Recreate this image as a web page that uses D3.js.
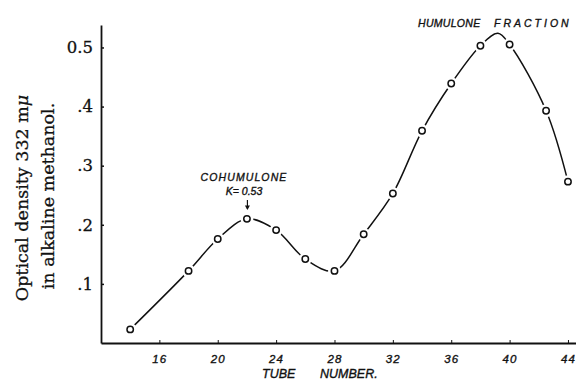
<!DOCTYPE html>
<html>
<head>
<meta charset="utf-8">
<script src="https://cdn.jsdelivr.net/npm/d3@7/dist/d3.min.js"></script>
<style>
  body { margin: 0; background: #fff; }
  svg { display: block; }
  .axis path, .axis line { stroke: #111; }
  .lettering { font-family: "Liberation Sans", Arial, sans-serif; font-style: italic; fill: #111; stroke: #111; stroke-width: 0.35px; }
  .serif { font-family: "DejaVu Serif", serif; fill: #111; stroke: #111; stroke-width: 0.3px; }
</style>
</head>
<body>
<div id="chart"></div>
<script>
/* Data */
var tubes = [14, 18, 20, 22, 24, 26, 28, 30, 32, 34, 36, 38, 40, 42.5, 44];
var density = [0.023, 0.122, 0.176, 0.210, 0.191, 0.142, 0.122, 0.184, 0.253, 0.359, 0.439, 0.503, 0.505, 0.393, 0.273];
// hand drawn curve rises above the two top points
var apexTube = [39.2];
var apexDensity = [0.524];

var xTickValues = [16, 20, 24, 28, 32, 36, 40, 44];
var yTickValues = [0.1, 0.2, 0.3, 0.4, 0.5];
var yTickLabels = [".1", ".2", ".3", ".4", "0.5"];

var width = 576,
    height = 380;

var svg = d3.select("#chart").append("svg")
    .attr("width", width)
    .attr("height", height);

var x = d3.scaleLinear().domain([12, 44.55]).range([101, 576]);
var y = d3.scaleLinear().domain([0, 0.538]).range([343, 25]);

/* ------- AXES -------*/
var yAxis = d3.axisLeft(y)
    .tickValues(yTickValues)
    .tickFormat(function(d, i) { return yTickLabels[i]; })
    .tickSizeInner(-3).tickSizeOuter(0).tickPadding(8);

var gy = svg.append("g").attr("class", "axis")
    .attr("transform", "translate(" + x(12) + ",0)")
    .call(yAxis);
gy.select(".domain").attr("stroke-width", 1.8);
gy.selectAll(".tick line").attr("stroke-width", 1.5);
gy.selectAll("text")
    .attr("class", "serif")
    .style("font-size", "16.5px")
    .attr("font-family", null);

var xAxis = d3.axisBottom(x)
    .tickValues(xTickValues)
    .tickFormat(d3.format("d"))
    .tickSizeInner(-3).tickSizeOuter(0).tickPadding(12);

var gx = svg.append("g").attr("class", "axis")
    .attr("transform", "translate(0," + y(0) + ")")
    .call(xAxis);
gx.select(".domain").attr("stroke-width", 1.8);
gx.selectAll(".tick line").attr("stroke-width", 1);
gx.selectAll("text")
    .attr("class", "lettering")
    .attr("font-family", null)
    .style("font-size", "11.5px")
    .style("letter-spacing", "1.2px");

svg.append("text").attr("class", "lettering")
    .attr("x", 262).attr("y", 378)
    .style("font-size", "12.5px")
    .text("TUBE");
svg.append("text").attr("class", "lettering")
    .attr("x", 320).attr("y", 378)
    .style("font-size", "12.5px")
    .text("NUMBER.");

/* y title, two rotated lines */
var yTitle = svg.append("text").attr("class", "serif")
    .attr("transform", "translate(28,198) rotate(-90)")
    .attr("text-anchor", "middle")
    .style("font-size", "17.5px");
yTitle.append("tspan").text("Optical density 332 m");
yTitle.append("tspan").style("font-style", "italic").text("μ");

svg.append("text").attr("class", "serif")
    .attr("transform", "translate(54,196) rotate(-90)")
    .attr("text-anchor", "middle")
    .style("font-size", "17.5px")
    .text("in alkaline methanol.");

/* ------- CURVE -------*/
var knots = tubes.map(function(t, i) { return [t, density[i]]; });
knots.push([apexTube[0], apexDensity[0]]);
knots.sort(function(a, b) { return a[0] - b[0]; });

var line = d3.line()
    .x(function(d) { return x(d[0]); })
    .y(function(d) { return y(d[1]); })
    .curve(d3.curveCatmullRom.alpha(0.5));

svg.append("path")
    .datum(knots)
    .attr("d", line)
    .attr("fill", "none")
    .attr("stroke", "#111")
    .attr("stroke-width", 1.5);

/* ------- POINTS (white halo cuts the curve) -------*/
var pts = svg.append("g");
pts.selectAll("circle.halo")
    .data(tubes)
    .enter().append("circle")
    .attr("class", "halo")
    .attr("cx", function(d) { return x(d); })
    .attr("cy", function(d, i) { return y(density[i]); })
    .attr("r", 6.5)
    .attr("fill", "#fff");
pts.selectAll("circle.pt")
    .data(tubes)
    .enter().append("circle")
    .attr("class", "pt")
    .attr("cx", function(d) { return x(d); })
    .attr("cy", function(d, i) { return y(density[i]); })
    .attr("r", 3.2)
    .attr("fill", "#fff")
    .attr("stroke", "#111")
    .attr("stroke-width", 1.5);

/* ------- ANNOTATIONS -------*/
svg.append("text").attr("class", "lettering")
    .attr("x", 244).attr("y", 181)
    .attr("text-anchor", "middle")
    .style("font-size", "10.5px")
    .style("letter-spacing", "1.1px")
    .text("COHUMULONE");
svg.append("text").attr("class", "lettering")
    .attr("x", 244).attr("y", 195)
    .attr("text-anchor", "middle")
    .style("font-size", "10.5px")
    .text("K= 0.53");

var ax = x(22) + 0.5;
svg.append("line")
    .attr("x1", ax).attr("x2", ax)
    .attr("y1", 200).attr("y2", 209)
    .attr("stroke", "#111").attr("stroke-width", 1.2);
svg.append("path")
    .attr("d", "M" + (ax - 2.5) + ",205.5L" + ax + ",210L" + (ax + 2.5) + ",205.5Z")
    .attr("fill", "#111");

var hum = svg.append("text").attr("class", "lettering")
    .attr("y", 27)
    .style("font-size", "10.5px");
hum.append("tspan").attr("x", 418).style("letter-spacing", "0.3px").text("HUMULONE");
hum.append("tspan").attr("x", 494).style("letter-spacing", "3px").text("FRACTION");
</script>
</body>
</html>
